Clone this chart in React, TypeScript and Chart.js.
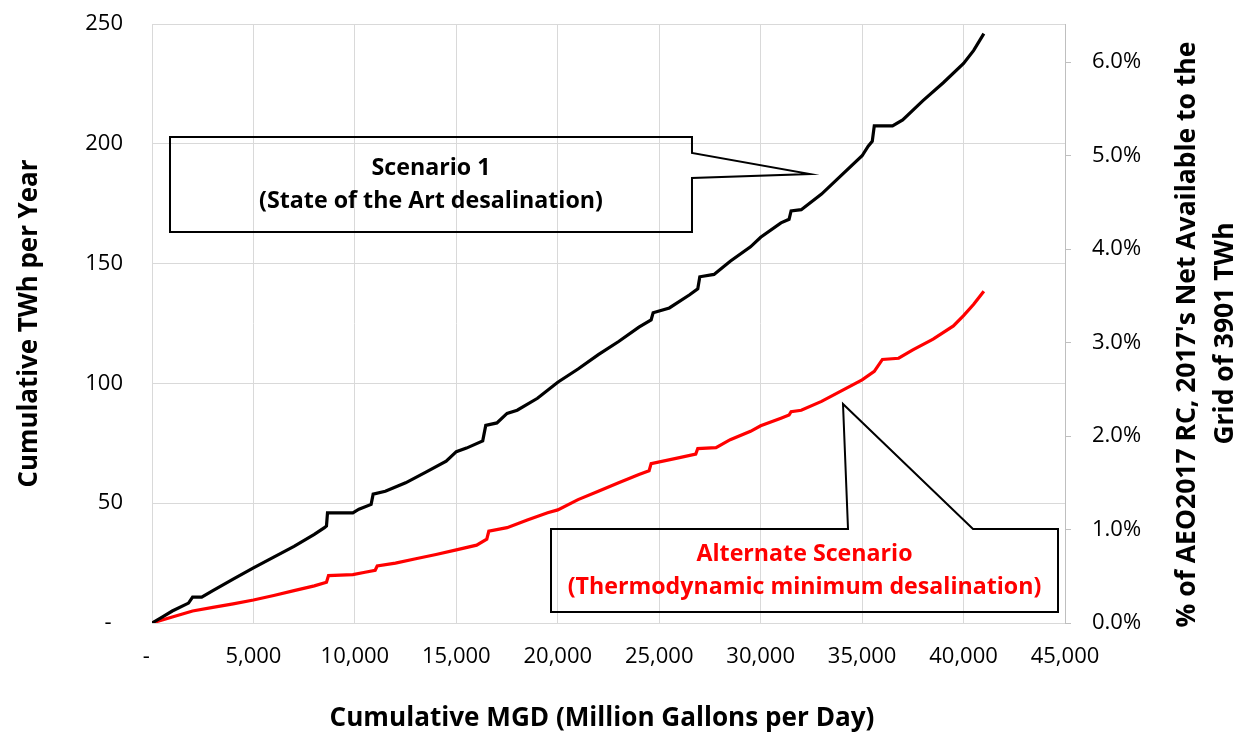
import React, { useEffect, useRef } from "react";
import { Chart, registerables } from "chart.js";

Chart.register(...registerables);

// ---------- data ----------
const GRID_TOTAL_TWH = 3901;
const X_MAX = 45000;
const X_STEP = 5000;
const Y_MAX = 250;
const Y_STEP = 50;
const PCT_STEP = 1;

const scenario1Mgd = [
  0, 500, 1000, 1800, 2000, 2450, 3000, 4000, 5000, 6000, 7000, 8000, 8500, 8600, 8650, 9900,
  10200, 10800, 10900, 11500, 12500, 13500, 14500, 15000, 15500, 16300, 16450, 17000, 17500,
  18000, 19000, 20000, 21000, 22000, 23000, 24000, 24600, 24700, 25500, 26500, 26900, 27000,
  27700, 28500, 29500, 30000, 31000, 31400, 31500, 32000, 33000, 34000, 35000, 35300, 35500,
  35600, 36500, 37000, 38000, 39000, 40000, 40500, 41000,
];
const scenario1Twh = [
  0, 2.5, 5, 8.3, 10.8, 10.8, 13.5, 18.3, 23, 27.5, 32, 37, 39.8, 40.5, 46, 46,
  47.5, 49.5, 53.8, 55, 58.5, 63, 67.5, 71.5, 73, 76, 82.5, 83.5, 87.5,
  88.8, 93.8, 100.5, 106, 112, 117.5, 123.5, 126.5, 129.5, 131.5, 137, 139.5, 144.5,
  145.5, 151, 157, 161, 167, 168.5, 172, 172.5, 179, 187, 195, 199, 201,
  207.5, 207.5, 210, 218, 225.5, 233.5, 239, 246,
];

const alternateMgd = [
  0, 1000, 2000, 3000, 4000, 5000, 6000, 7000, 8000, 8600, 8700, 9900, 10500, 11000, 11100,
  12000, 13000, 14000, 15000, 16000, 16500, 16600, 17500, 18500, 19500, 20000, 21000, 22000,
  23000, 24000, 24500, 24600, 26000, 26800, 26900, 27800, 28500, 29500, 30000, 31000, 31400,
  31500, 32000, 33000, 34000, 35000, 35600, 36000, 36800, 37500, 38500, 39500, 40000, 40500,
  41000,
];
const alternateTwh = [
  0, 2.5, 5, 6.5, 8, 9.6, 11.5, 13.5, 15.5, 17, 19.8, 20.2, 21.2, 22, 23.8,
  25, 26.8, 28.6, 30.5, 32.5, 35, 38.3, 39.8, 43, 46, 47.2, 51.5, 55,
  58.5, 62, 63.5, 66.5, 69, 70.5, 72.8, 73.2, 76.5, 80, 82.3, 85.5, 86.8,
  88.2, 88.8, 92.5, 97, 101.5, 105, 110, 110.5, 114, 118.5, 124, 128.3, 133,
  138.5,
];

// ---------- texts ----------
const xAxisTitle = "Cumulative MGD (Million Gallons per Day)";
const yAxisTitle = "Cumulative TWh per Year";
const y2AxisTitle = ["% of AEO2017 RC, 2017's Net Available to the", "Grid of 3901 TWh"];
const callout1Lines = ["Scenario 1", "(State of the Art desalination)"];
const callout2Lines = ["Alternate Scenario", "(Thermodynamic minimum desalination)"];

// callout geometry, in data units (MGD, TWh)
const callout1Box = { x0: 887, x1: 26615, yTop: 202.8, yBottom: 163.2 };
const callout1Wedge = { baseTop: 196.2, baseBottom: 185.7, tipX: 32431, tipY: 187.4 };
const callout2Box = { x0: 19666, x1: 44655, yTop: 39.2, yBottom: 4.6 };
const callout2Wedge = { leftX: 34305, tipX: 34058, tipY: 91.4, rightX: 40466 };

const FONT = "'Open Sans', 'Liberation Sans', sans-serif";

function fitSize(ctx: CanvasRenderingContext2D, text: string, width: number, weight: string) {
  ctx.font = `${weight} 100px ${FONT}`;
  const w = ctx.measureText(text).width;
  return (100 * width) / w;
}

function drawText(
  ctx: CanvasRenderingContext2D,
  text: string,
  cx: number,
  cy: number,
  size: number,
  color: string,
  rotate = 0
) {
  ctx.save();
  ctx.translate(cx, cy);
  if (rotate) ctx.rotate(rotate);
  ctx.font = `bold ${size}px ${FONT}`;
  ctx.fillStyle = color;
  ctx.textAlign = "center";
  ctx.textBaseline = "middle";
  ctx.fillText(text, 0, 0);
  ctx.restore();
}

const overlayPlugin = {
  id: "overlay",
  afterDraw(chart: any) {
    const ctx: CanvasRenderingContext2D = chart.ctx;
    const xs = chart.scales.x;
    const ys = chart.scales.y;
    const area = chart.chartArea;
    const px = (v: number) => xs.getPixelForValue(v);
    const py = (v: number) => ys.getPixelForValue(v);

    // axis titles
    const midY = (area.top + area.bottom) / 2;
    const s1 = fitSize(ctx, yAxisTitle, 328, "bold");
    drawText(ctx, yAxisTitle, area.left - 122, midY, s1, "#000", -Math.PI / 2);
    const s2 = fitSize(ctx, xAxisTitle, 545, "bold");
    drawText(ctx, xAxisTitle, 602, area.bottom + 96, s2, "#000");
    const s3 = fitSize(ctx, y2AxisTitle[0], 586, "bold");
    drawText(ctx, y2AxisTitle[0], area.right + 122, midY + 11, s3, "#000", -Math.PI / 2);
    drawText(ctx, y2AxisTitle[1], area.right + 160, midY + 10, s3, "#000", -Math.PI / 2);

    // callout 1
    ctx.save();
    ctx.strokeStyle = "#000";
    ctx.lineWidth = 2;
    ctx.lineJoin = "miter";
    const b1x0 = px(callout1Box.x0), b1x1 = px(callout1Box.x1);
    const b1t = py(callout1Box.yTop), b1b = py(callout1Box.yBottom);
    ctx.beginPath();
    ctx.moveTo(b1x0, b1t);
    ctx.lineTo(b1x1, b1t);
    ctx.lineTo(b1x1, py(callout1Wedge.baseTop));
    ctx.lineTo(px(callout1Wedge.tipX), py(callout1Wedge.tipY));
    ctx.lineTo(b1x1, py(callout1Wedge.baseBottom));
    ctx.lineTo(b1x1, b1b);
    ctx.lineTo(b1x0, b1b);
    ctx.closePath();
    ctx.stroke();

    // callout 2
    const b2x0 = px(callout2Box.x0), b2x1 = px(callout2Box.x1);
    const b2t = py(callout2Box.yTop), b2b = py(callout2Box.yBottom);
    ctx.beginPath();
    ctx.moveTo(b2x0, b2t);
    ctx.lineTo(px(callout2Wedge.leftX), b2t);
    ctx.lineTo(px(callout2Wedge.tipX), py(callout2Wedge.tipY));
    ctx.lineTo(px(callout2Wedge.rightX), b2t);
    ctx.lineTo(b2x1, b2t);
    ctx.lineTo(b2x1, b2b);
    ctx.lineTo(b2x0, b2b);
    ctx.closePath();
    ctx.stroke();
    ctx.restore();

    const c1size = fitSize(ctx, callout1Lines[1], 344, "bold");
    const c1x = (b1x0 + b1x1) / 2, c1y = (b1t + b1b) / 2;
    drawText(ctx, callout1Lines[0], c1x, c1y - 16.5, c1size, "#000");
    drawText(ctx, callout1Lines[1], c1x, c1y + 16.5, c1size, "#000");

    const c2size = fitSize(ctx, callout2Lines[1], 474, "bold");
    const c2x = (b2x0 + b2x1) / 2, c2y = (b2t + b2b) / 2;
    drawText(ctx, callout2Lines[0], c2x, c2y - 16.5, c2size, "#ff0000");
    drawText(ctx, callout2Lines[1], c2x, c2y + 16.5, c2size, "#ff0000");
  },
};

export default function App() {
  const canvasRef = useRef<HTMLCanvasElement | null>(null);

  useEffect(() => {
    document.body.style.margin = "0";
    const canvas = canvasRef.current;
    if (!canvas) return;

    const s1 = scenario1Mgd.map((x, i) => ({ x, y: scenario1Twh[i] }));
    const s2 = alternateMgd.map((x, i) => ({ x, y: alternateTwh[i] }));
    const tickFont = { family: FONT, size: 22 };
    const gridColor = "#d9d9d9";

    const chart = new Chart(canvas, {
      type: "line",
      data: {
        datasets: [
          {
            label: "Scenario 1",
            data: s1,
            borderColor: "#000000",
            borderWidth: 3.2,
            pointRadius: 0,
            tension: 0,
            yAxisID: "y",
          },
          {
            label: "Alternate Scenario",
            data: s2,
            borderColor: "#ff0000",
            borderWidth: 3.2,
            pointRadius: 0,
            tension: 0,
            yAxisID: "y",
          },
        ],
      },
      options: {
        responsive: false,
        animation: false,
        layout: { padding: { top: 24, left: 0, right: 0, bottom: 0 } },
        plugins: {
          legend: { display: false },
          tooltip: { enabled: false },
        },
        scales: {
          x: {
            type: "linear",
            min: 0,
            max: X_MAX,
            grid: { color: gridColor, drawTicks: false },
            border: { color: gridColor },
            ticks: {
              stepSize: X_STEP,
              font: tickFont,
              color: "#000",
              padding: 21,
              maxRotation: 0,
              autoSkip: false,
              callback: (v: any) => (v === 0 ? "-  " : Number(v).toLocaleString("en-US")),
            },
            afterFit: (s: any) => {
              s.height = 111;
              s.paddingLeft = 0;
              s.paddingRight = 0;
            },
          },
          y: {
            type: "linear",
            position: "left",
            min: 0,
            max: Y_MAX,
            grid: { color: gridColor, drawTicks: false },
            border: { color: gridColor },
            ticks: {
              stepSize: Y_STEP,
              font: tickFont,
              color: "#000",
              padding: 29,
              callback: (v: any) => (v === 0 ? "-  " : String(v)),
            },
            afterFit: (s: any) => {
              s.width = 152;
              s.paddingTop = 0;
              s.paddingBottom = 0;
            },
          },
          y2: {
            type: "linear",
            position: "right",
            min: 0,
            max: (Y_MAX / GRID_TOTAL_TWH) * 100,
            grid: { drawOnChartArea: false, drawTicks: true, tickLength: 6, color: "#bfbfbf" },
            border: { color: "#bfbfbf" },
            ticks: {
              stepSize: PCT_STEP,
              includeBounds: false,
              font: tickFont,
              color: "#000",
              padding: 21,
              callback: (v: any) => Number(v).toFixed(1) + "%",
            },
            afterFit: (s: any) => {
              s.width = 174;
              s.paddingTop = 0;
              s.paddingBottom = 0;
            },
          },
        },
      } as any,
      plugins: [overlayPlugin],
    });

    return () => chart.destroy();
  }, []);

  return (
    <div style={{ width: 1239, height: 734 }}>
      <canvas ref={canvasRef} width={1239} height={734} style={{ display: "block" }} />
    </div>
  );
}
